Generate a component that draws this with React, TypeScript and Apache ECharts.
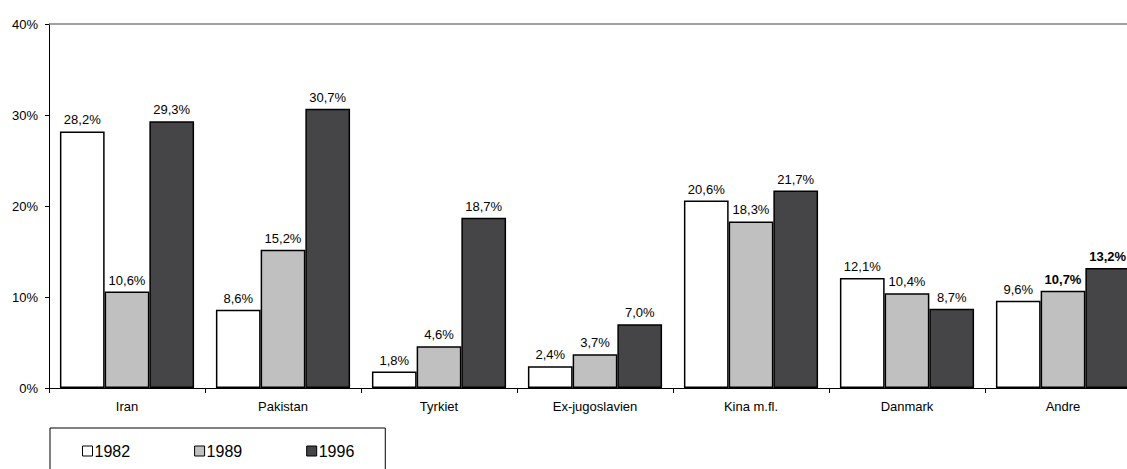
import React, { useEffect, useRef } from "react";
import * as echarts from "echarts";

const categories = ["Iran", "Pakistan", "Tyrkiet", "Ex-jugoslavien", "Kina m.fl.", "Danmark", "Andre"];
const seriesNames = ["1982", "1989", "1996"];
const values1982 = [28.2, 8.6, 1.8, 2.4, 20.6, 12.1, 9.6];
const values1989 = [10.6, 15.2, 4.6, 3.7, 18.3, 10.4, 10.7];
const values1996 = [29.3, 30.7, 18.7, 7.0, 21.7, 8.7, 13.2];
const yTicks = [0, 10, 20, 30, 40];

const FONT = "'Liberation Sans', Arial, sans-serif";
const colors = ["#ffffff", "#c0c0c0", "#454547"];
const boldLabelCategories = [[], ["Andre"], ["Andre"]];

const fmt = (v: number) => v.toFixed(1).replace(".", ",") + "%";

export default function App() {
  const ref = useRef<HTMLDivElement>(null);
  useEffect(() => {
    document.body.style.margin = "0";
    const chart = echarts.init(ref.current!, undefined, { renderer: "svg" });
    const all = [values1982, values1989, values1996];
    const series: any[] = all.map((vals, si) => ({
      name: seriesNames[si],
      type: "bar",
      barGap: "0%",
      barCategoryGap: "14%",
      itemStyle: { color: colors[si], borderColor: "#000", borderWidth: 1.5 },
      label: {
        show: true,
        position: "top",
        distance: 5,
        color: "#000",
        fontFamily: FONT,
        fontSize: 13,
        formatter: (p: any) => fmt(p.value),
      },
      data: vals.map((v, i) =>
        (boldLabelCategories[si] as string[]).includes(categories[i])
          ? { value: v, label: { fontWeight: "bold" } }
          : v
      ),
      markLine:
        si === 0
          ? {
              silent: true,
              symbol: ["none", "none"],
              label: { show: false },
              lineStyle: { color: "#808080", width: 1.5, type: "solid" },
              data: [{ yAxis: yTicks[yTicks.length - 1] }],
            }
          : undefined,
    }));
    chart.setOption({
      animation: false,
      backgroundColor: "#fff",
      grid: { left: 49, top: 24, bottom: 81, right: -14, outerBoundsMode: "none", containLabel: false },
      legend: {
        left: 50,
        top: 428,
        orient: "horizontal",
        itemWidth: 10,
        itemHeight: 10,
        itemGap: 64,
        padding: [15, 31, 40, 32],
        borderColor: "#000",
        borderWidth: 1,
        icon: "rect",
        textStyle: { fontFamily: FONT, fontSize: 16, color: "#000", padding: [0, 0, 0, -3] },
        itemStyle: { borderColor: "#000", borderWidth: 1 },
        data: seriesNames,
      },
      xAxis: {
        type: "category",
        data: categories,
        axisLine: { lineStyle: { color: "#000", width: 1 } },
        axisTick: { show: true, length: 5, lineStyle: { color: "#000" } },
        axisLabel: { color: "#000", fontFamily: FONT, fontSize: 13, margin: 12 },
      },
      yAxis: {
        type: "value",
        min: yTicks[0],
        max: yTicks[yTicks.length - 1],
        interval: 10,
        axisLine: { show: true, lineStyle: { color: "#000", width: 1 } },
        axisTick: { show: true, length: 4, lineStyle: { color: "#000" } },
        splitLine: { show: false },
        axisLabel: { color: "#000", fontFamily: FONT, fontSize: 13, margin: 11, formatter: "{value}%" },
      },
      series,
    });
    return () => chart.dispose();
  }, []);
  return <div ref={ref} style={{ width: 1127, height: 469 }} />;
}
